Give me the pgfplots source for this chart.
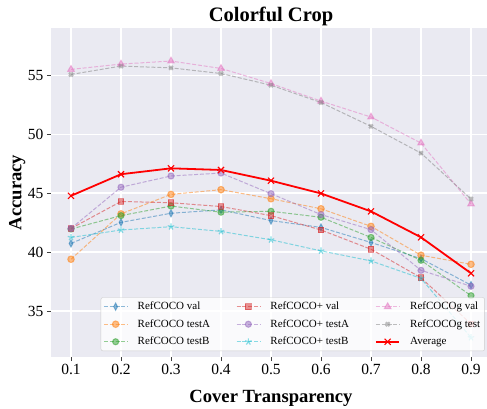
\documentclass[border=0pt]{standalone}
\usepackage{fontspec}
\setmainfont{Liberation Serif}
\usepackage{pgfplots}
\pgfplotsset{compat=1.18}
\usetikzlibrary{plotmarks}
\definecolor{c0}{HTML}{1F77B4}
\definecolor{c1}{HTML}{FF7F0E}
\definecolor{c2}{HTML}{2CA02C}
\definecolor{c3}{HTML}{D62728}
\definecolor{c4}{HTML}{9467BD}
\definecolor{c5}{HTML}{17BECF}
\definecolor{c6}{HTML}{E377C2}
\definecolor{c7}{HTML}{7F7F7F}
\definecolor{bgc}{HTML}{EAEAF2}
\definecolor{avg}{HTML}{FF0000}
\begin{document}
\begin{tikzpicture}
\path[use as bounding box] (0,0) rectangle (487pt,408pt);
\begin{axis}[
  at={(51pt,51pt)}, anchor=south west,
  width=440pt, height=329pt, scale only axis,
  xmin=0.06, xmax=0.94, ymin=31.1, ymax=59.0,
  axis background/.style={fill=bgc},
  axis line style={draw=none},
  grid=major, major grid style={white, line width=1.2pt},
  xtick={0.1,0.2,0.3,0.4,0.5,0.6,0.7,0.8,0.9},
  xticklabels={0.1,0.2,0.3,0.4,0.5,0.6,0.7,0.8,0.9},
  ytick={35,40,45,50,55},
  yticklabels={35,40,45,50,55},
  tick align=outside, xtick pos=left, ytick pos=left,
  major tick length=4pt,
  tick style={black!75, line width=0.8pt},
  ticklabel style={font=\fontsize{15.5}{18}\selectfont},
  /pgf/number format/assume math mode=true,
  xlabel={Cover Transparency}, ylabel={Accuracy},
  label style={font=\bfseries\fontsize{18.6}{22}\selectfont},
  xlabel style={at={(axis description cs:0.5,-0.127)}, anchor=center},
  ylabel style={at={(axis description cs:-0.077,0.5)}, anchor=center},
  title={Colorful Crop},
  title style={font=\bfseries\fontsize{20.5}{24}\selectfont, at={(axis description cs:0.5,1)}, anchor=base, yshift=0.3pt},
  legend columns=3, transpose legend,
  legend cell align=left,
  legend style={at={(rel axis cs:0.986,0.018)}, anchor=south east,
    font=\fontsize{11}{13}\selectfont, fill=white, fill opacity=0.8, draw opacity=1, text opacity=1,
    draw=black!20, rounded corners=2pt, inner sep=2.5pt, row sep=4.3pt,
    /tikz/every odd column/.append style={column sep=8pt},
    /tikz/every even column/.append style={column sep=24pt}},
  legend image code/.code={\draw[sharp corners, mark repeat=2, mark phase=2] plot coordinates {(0pt,0pt)(11.7pt,0pt)(23.3pt,0pt)};},
  every axis plot/.append style={line width=1pt, dash pattern=on 4pt off 1.8pt, opacity=0.5},
]
\addplot[color=c0, mark=diamond*, mark size=3.6pt, mark options={solid, xscale=0.7}] coordinates {
(0.1,40.73) (0.2,42.52) (0.3,43.29) (0.4,43.58) (0.5,42.67) (0.6,42.09) (0.7,40.81) (0.8,39.44) (0.9,37.2)};
\addlegendentry{RefCOCO val}
\addplot[color=c1, mark=*, mark size=3.3pt, mark options={solid}] coordinates {
(0.1,39.39) (0.2,43.24) (0.3,44.89) (0.4,45.29) (0.5,44.52) (0.6,43.67) (0.7,42.18) (0.8,39.73) (0.9,38.96)};
\addlegendentry{RefCOCO testA}
\addplot[color=c2, mark=*, mark size=3.1pt, mark options={solid}] coordinates {
(0.1,41.95) (0.2,43.09) (0.3,43.9) (0.4,43.38) (0.5,43.46) (0.6,42.95) (0.7,41.24) (0.8,39.3) (0.9,36.3)};
\addlegendentry{RefCOCO testB}
\addplot[color=c3, mark=square*, mark size=2.9pt, mark options={solid}] coordinates {
(0.1,42.0) (0.2,44.29) (0.3,44.18) (0.4,43.86) (0.5,43.09) (0.6,41.87) (0.7,40.24) (0.8,37.82) (0.9,33.9)};
\addlegendentry{RefCOCO+ val}
\addplot[color=c4, mark=*, mark size=3.1pt, mark options={solid}] coordinates {
(0.1,42.0) (0.2,45.5) (0.3,46.45) (0.4,46.7) (0.5,44.95) (0.6,43.18) (0.7,41.9) (0.8,38.45) (0.9,37.1)};
\addlegendentry{RefCOCO+ testA}
\addplot[color=c5, mark=star, mark size=3.4pt, mark options={solid, line width=1.2pt}] coordinates {
(0.1,41.24) (0.2,41.87) (0.3,42.15) (0.4,41.75) (0.5,41.04) (0.6,40.1) (0.7,39.25) (0.8,37.77) (0.9,32.75)};
\addlegendentry{RefCOCO+ testB}
\addplot[color=c6, mark=triangle*, mark size=3.8pt, mark options={solid}] coordinates {
(0.1,55.49) (0.2,55.94) (0.3,56.2) (0.4,55.57) (0.5,54.29) (0.6,52.8) (0.7,51.45) (0.8,49.24) (0.9,44.08)};
\addlegendentry{RefCOCOg val}
\addplot[color=c7, mark=x, mark size=2.7pt, mark options={solid, line width=2.2pt}] coordinates {
(0.1,55.06) (0.2,55.77) (0.3,55.62) (0.4,55.14) (0.5,54.15) (0.6,52.68) (0.7,50.66) (0.8,48.39) (0.9,44.5)};
\addlegendentry{RefCOCOg test}
\addplot[color=avg, opacity=1, solid, line width=1.8pt, mark=x, mark size=4.3pt, mark options={solid, line width=1.1pt}] coordinates {
(0.1,44.77) (0.2,46.6) (0.3,47.1) (0.4,46.96) (0.5,46.05) (0.6,44.97) (0.7,43.45) (0.8,41.25) (0.9,38.2)};
\addlegendentry{Average}
\end{axis}
\end{tikzpicture}
\end{document}
